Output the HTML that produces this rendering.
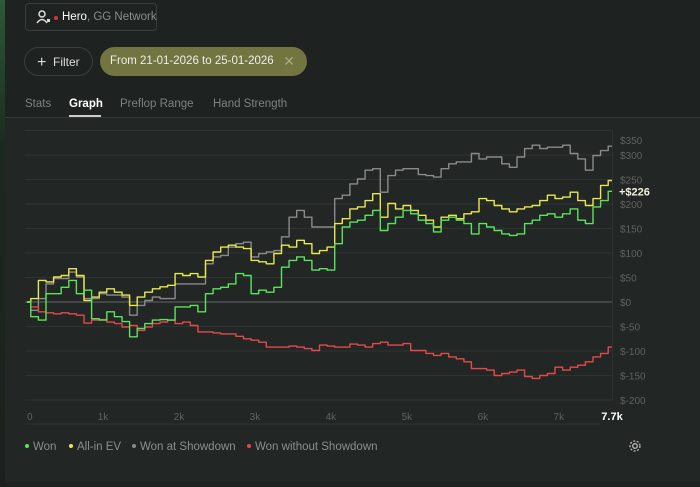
<!DOCTYPE html>
<html><head><meta charset="utf-8"><style>
html,body{margin:0;padding:0;width:700px;height:487px;overflow:hidden;background:#1c1f1e;font-family:"Liberation Sans",sans-serif;}
#root{position:relative;width:700px;height:487px;background:#1e2221;}
.strip{position:absolute;left:0;top:0;width:5px;height:487px;background:linear-gradient(#2c5a35,#1b2a20 30%,#1c1f1e);}
.panel{position:absolute;left:5px;top:118px;width:695px;height:363px;background:#222625;}
.hero{position:absolute;left:25px;top:3px;width:132px;height:28px;border:1px solid #3a3f3d;border-radius:4px;box-sizing:border-box;color:#eee;font-size:11.5px;line-height:26px;padding-left:36px;white-space:nowrap;}
.hero .dot{position:absolute;left:28px;top:12px;width:4px;height:4px;border-radius:50%;background:#d33;}
.filter{position:absolute;left:24px;top:47px;width:69px;height:29px;border:1px solid #3a3f3d;border-radius:15px;box-sizing:border-box;color:#ddd;font-size:12px;line-height:27px;padding-left:12px;white-space:nowrap;}
.date{position:absolute;left:100px;top:47px;width:207px;height:29px;border-radius:15px;background:#727540;color:#eee;font-size:11.5px;line-height:29px;padding-left:10px;box-sizing:border-box;white-space:nowrap;}
.date .x{position:absolute;right:12px;top:0;color:#a8aa80;font-size:14px;}
.tab{position:absolute;top:98px;font-size:11.5px;color:#7c8280;white-space:nowrap;}
.tab.on{color:#fff;font-weight:bold;}
.uline{position:absolute;left:69px;top:115px;width:32px;height:2px;background:#ccc;}
.div{position:absolute;left:5px;top:117px;width:695px;height:1px;background:#343937;}
svg{position:absolute;left:0;top:0;}
.leg{position:absolute;top:441px;font-size:11.5px;color:#8a8f8d;white-space:nowrap;}
.leg i{display:inline-block;width:4px;height:4px;border-radius:50%;margin-right:4px;vertical-align:middle;position:relative;top:-1px;}
</style></head><body>
<div id="root">
<div class="strip"></div>
<div class="panel"></div>
<div class="hero"><svg width="20" height="20" style="left:9px;top:4px"><circle cx="7" cy="6" r="3" fill="none" stroke="#ddd" stroke-width="1.5"/><path d="M2 15 Q7 8 12 15" fill="none" stroke="#ddd" stroke-width="1.5"/><rect x="12" y="11" width="3" height="3" fill="#ddd"/></svg><span class="dot"></span><span style="color:#fff">Hero</span><span style="color:#8a8f8d">, GG Network</span></div>
<div class="filter"><span style="font-size:16px;position:relative;top:1px">+</span>&nbsp; Filter</div>
<div class="date">From 21-01-2026 to 25-01-2026<span class="x">✕</span></div>
<div class="tab" style="left:25px">Stats</div>
<div class="tab on" style="left:69px">Graph</div>
<div class="tab" style="left:120px">Preflop Range</div>
<div class="tab" style="left:213px">Hand Strength</div>
<div class="uline"></div>
<div class="div"></div>
<svg id="chart" width="700" height="487"></svg>
<div class="leg" style="left:25px"><i style="background:#5be35b"></i>Won</div>
<div class="leg" style="left:69px"><i style="background:#e8e84a"></i>All-in EV</div>
<div class="leg" style="left:132px"><i style="background:#888"></i>Won at Showdown</div>
<div class="leg" style="left:247px"><i style="background:#e24a4a"></i>Won without Showdown</div>
<svg width="14" height="14" style="left:628px;top:439px"><circle cx="7" cy="7" r="2.3" fill="none" stroke="#bbb" stroke-width="1.3"/><circle cx="7" cy="7" r="5" fill="none" stroke="#bbb" stroke-width="1.3" stroke-dasharray="2 1.6"/></svg>
</div>
<script>
const won=[0,-30,-37,17,17,30,44,17,24,-34,-37,-20,-30,-40,-71,-54,-44,-37,-36,-37,-10,-10,-7,-20,17,27,30,37,58,54,17,24,20,30,71,85,92,85,65,68,65,119,153,163,167,177,187,146,160,173,187,180,167,160,143,167,173,167,160,139,160,153,146,139,136,139,160,167,177,180,173,180,190,167,160,194,207,226];
const ev=[0,7,44,41,51,54,68,54,3,10,20,27,20,14,-7,10,20,27,31,34,58,54,58,51,85,102,112,116,112,109,85,82,78,99,116,112,126,119,99,105,112,160,170,190,194,207,221,173,201,190,197,187,177,167,153,173,177,170,180,184,211,207,197,190,184,190,194,197,207,218,211,214,224,207,197,211,238,248];
const sd=[0,-17,7,37,48,48,61,51,7,7,17,14,14,10,-27,-7,3,10,7,7,37,37,37,37,78,92,95,112,119,122,92,99,102,105,133,173,187,173,153,153,153,211,218,241,251,269,272,224,258,269,272,272,260,258,255,272,282,286,286,303,292,296,296,282,275,296,313,320,313,316,316,320,303,292,269,299,309,318];
const nsd=[0,-10,-20,-22,-24,-22,-24,-27,-43,-37,-36,-41,-44,-51,-48,-58,-51,-44,-41,-37,-44,-41,-48,-61,-61,-63,-65,-65,-70,-75,-78,-82,-92,-92,-92,-90,-92,-95,-99,-88,-90,-92,-92,-86,-88,-92,-85,-82,-88,-88,-85,-99,-99,-105,-109,-105,-112,-116,-122,-136,-136,-139,-150,-146,-143,-139,-152,-156,-150,-146,-133,-139,-133,-129,-122,-112,-105,-92];
const yTicks=[350,300,250,200,150,100,50,0,-50,-100,-150,-200];
const xTicks=[0,1000,2000,3000,4000,5000,6000,7000];
const xTickLabels=["0","1k","2k","3k","4k","5k","6k","7k"];
const handStep=100, totalHands=7700, finalLabel="+$226";
const svg=document.getElementById('chart');const NS='http://www.w3.org/2000/svg';
const X=h=>27+(h/totalHands)*585;const Y=v=>302-v*0.49;
function mk(t,a,parent){const e=document.createElementNS(NS,t);for(const k in a)e.setAttribute(k,a[k]);(parent||svg).appendChild(e);return e;}
yTicks.forEach(v=>{
 const l=mk('line',{x1:25,x2:612,y1:Y(v),y2:Y(v),stroke:v===0?'#4d5250':'#2e3331','stroke-width':v===0?1.5:1});
 
 
 let ty=Y(v)+4; if(v===350) ty=144;
 const t=mk('text',{x:620,y:ty,fill:'#5d6361','font-size':10});t.textContent='$'+v;
 
 
});
const rl=mk('line',{x1:612.5,x2:612.5,y1:Y(350),y2:Y(-200),stroke:'#2e3331'});


const bl=mk('line',{x1:25,x2:600,y1:424,y2:424,stroke:'#2e3331'});


xTicks.forEach((h,i)=>{const t=mk('text',{x:X(h),y:420,fill:'#5d6361','font-size':10,'text-anchor':i===0?'start':'middle'});t.textContent=xTickLabels[i];
 
 });
const fx=mk('text',{x:612,y:420,fill:'#fff','font-size':11,'font-weight':'bold','text-anchor':'middle'});fx.textContent='7.7k';


function series(arr,color,name){
 let d='';arr.forEach((v,i)=>{const x=X(i*handStep).toFixed(1),y=Y(v).toFixed(1);
  if(i===0)d+='M'+x+' '+y;else{const mx=(X((i-0.5)*handStep)).toFixed(1);d+='H'+mx+'V'+y+'H'+x;}});
 const p=mk('path',{d:d,fill:'none',stroke:color,'stroke-width':1.4,'stroke-linejoin':'round'});
 
 
}
series(sd,'#8a8a8a','won-at-showdown-line');
series(nsd,'#e24a4a','won-without-showdown-line');
series(ev,'#e8e84a','all-in-ev-line');
series(won,'#5be35b','won-line');
const fl=mk('text',{x:619,y:Y(won[won.length-1])+4,fill:'#f2f2e0','font-size':11,'font-weight':'bold'});fl.textContent=finalLabel;


</script>
</body></html>
